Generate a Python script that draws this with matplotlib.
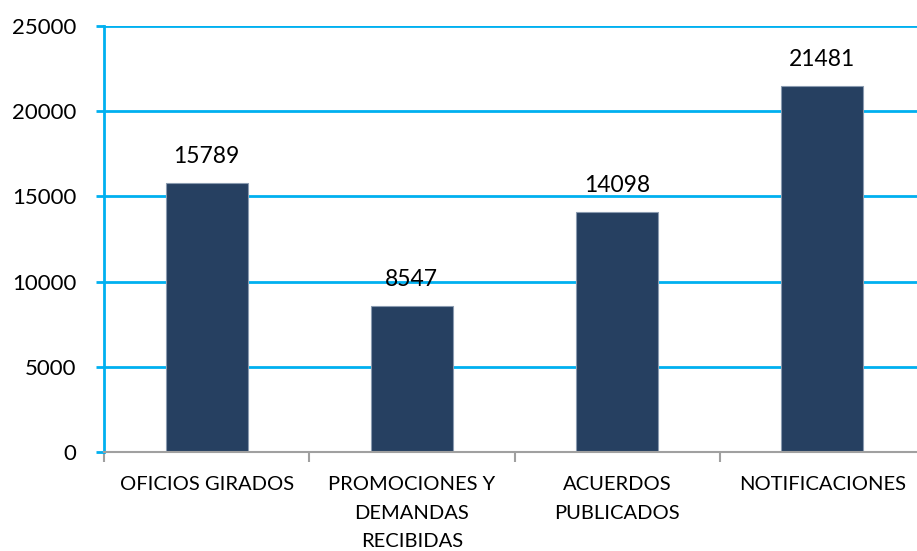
import matplotlib
matplotlib.use("Agg")
import matplotlib.pyplot as plt

categories = ["OFICIOS GIRADOS", "PROMOCIONES Y\nDEMANDAS\nRECIBIDAS", "ACUERDOS\nPUBLICADOS", "NOTIFICACIONES"]
values = [15789, 8547, 14098, 21481]
yticks = [0, 5000, 10000, 15000, 20000, 25000]

plt.rcParams['font.family'] = ['Lato', 'DejaVu Sans']

fig = plt.figure(figsize=(9.17, 5.51), dpi=100)
ax = fig.add_axes([104/917, 1-452/551, (925-104)/917, (452-26)/551])

cyan = '#00B0F0'
x = list(range(len(categories)))
bars = ax.bar(x, values, width=0.4, color='#264061', edgecolor='#8a9bb0', linewidth=0.8, zorder=3)
for xi, v in zip(x, values):
    ax.text(xi, v + 950, str(v), ha='center', va='bottom', fontsize=16.5, color='black')

ax.set_xlim(-0.5, len(categories) - 0.5)
ax.set_ylim(0, 25000)
ax.set_yticks(yticks)
ax.set_yticklabels([str(t) for t in yticks], fontsize=16)
ax.yaxis.grid(True, color=cyan, linewidth=2, zorder=0)
ax.set_axisbelow(True)

ax.set_xticks([i + 0.5 for i in range(-1, len(categories))], minor=False)
ax.set_xticklabels([])
ax.set_xticks(x, minor=True)
ax.set_xticklabels(categories, minor=True, fontsize=14.5, linespacing=1.85)
ax.tick_params(axis='x', which='major', length=7, width=1.5, color='#a0a0a0', direction='out')
ax.tick_params(axis='x', which='minor', length=0, pad=17)
ax.tick_params(axis='y', length=6, width=2, color=cyan, pad=14)

for s in ['top', 'right']:
    ax.spines[s].set_visible(False)
ax.spines['left'].set_color(cyan)
ax.spines['left'].set_linewidth(2)
ax.spines['bottom'].set_color('#a0a0a0')
ax.spines['bottom'].set_linewidth(1.5)
ax.spines['bottom'].set_zorder(4)

fig.savefig('out.png', dpi=100)
